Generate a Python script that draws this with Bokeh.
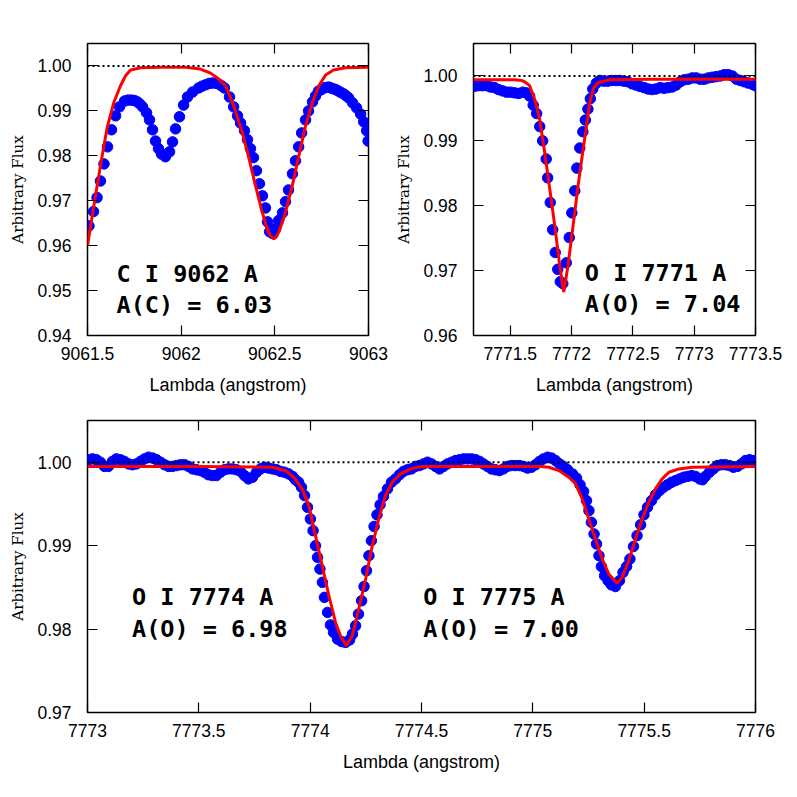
from bokeh.plotting import figure
from bokeh.layouts import column, row
from bokeh.models import Range1d, FixedTicker, LinearAxis, Span, Label, PrintfTickFormatter
from bokeh.embed import file_html
from bokeh.resources import INLINE

# ---------------- Panel 1 : C I 9062 ----------------
c_wave = [9061.508, 9061.532, 9061.551, 9061.569, 9061.588, 9061.607, 9061.628, 9061.650, 9061.671, 9061.698,
          9061.716, 9061.735, 9061.751, 9061.767, 9061.781, 9061.794, 9061.815, 9061.831, 9061.847, 9061.863,
          9061.879, 9061.895, 9061.916, 9061.938, 9061.954, 9061.970, 9061.991, 9062.013, 9062.034, 9062.061,
          9062.093, 9062.111, 9062.130, 9062.149, 9062.167, 9062.183, 9062.199, 9062.215, 9062.231, 9062.258,
          9062.280, 9062.301, 9062.317, 9062.338, 9062.354, 9062.370, 9062.386, 9062.402, 9062.418, 9062.434,
          9062.450, 9062.461, 9062.472, 9062.488, 9062.504, 9062.520, 9062.541, 9062.557, 9062.573, 9062.594,
          9062.610, 9062.627, 9062.643, 9062.664, 9062.680, 9062.701, 9062.717, 9062.733, 9062.747, 9062.760,
          9062.773, 9062.787, 9062.800, 9062.813, 9062.827, 9062.840, 9062.853, 9062.867, 9062.880, 9062.894,
          9062.915, 9062.936, 9062.958, 9062.974, 9062.990, 9062.998]
c_flux = [0.9644, 0.9676, 0.9707, 0.9744, 0.9782, 0.9820, 0.9858, 0.9889, 0.9909, 0.9922,
          0.9924, 0.9924, 0.9923, 0.9920, 0.9915, 0.9909, 0.9896, 0.9880, 0.9858, 0.9833,
          0.9816, 0.9804, 0.9798, 0.9809, 0.9831, 0.9860, 0.9887, 0.9913, 0.9931, 0.9942,
          0.9951, 0.9955, 0.9958, 0.9961, 0.9962, 0.9962, 0.9960, 0.9956, 0.9951, 0.9931,
          0.9909, 0.9889, 0.9873, 0.9856, 0.9836, 0.9816, 0.9796, 0.9767, 0.9738, 0.9711,
          0.9684, 0.9653, 0.9631, 0.9627, 0.9638, 0.9656, 0.9673, 0.9698, 0.9724, 0.9760,
          0.9789, 0.9820, 0.9851, 0.9880, 0.9900, 0.9920, 0.9933, 0.9944, 0.9947, 0.9951,
          0.9952, 0.9953, 0.9951, 0.9949, 0.9947, 0.9944, 0.9941, 0.9938, 0.9934, 0.9929,
          0.9918, 0.9907, 0.9893, 0.9876, 0.9856, 0.9833]
c_model_wave = [9061.500, 9061.534, 9061.569, 9061.605, 9061.640, 9061.676, 9061.703, 9061.730, 9061.783, 9061.890,
                9062.023, 9062.103, 9062.157, 9062.194, 9062.237, 9062.281, 9062.326, 9062.361, 9062.397, 9062.433,
                9062.459, 9062.477, 9062.495, 9062.509, 9062.521, 9062.557, 9062.593, 9062.628, 9062.664, 9062.700,
                9062.735, 9062.771, 9062.813, 9062.877, 9063.000]
c_model_flux = [0.9600, 0.9689, 0.9778, 0.9863, 0.9918, 0.9956, 0.9978, 0.9991, 0.9996, 0.9997,
                0.9997, 0.9993, 0.9984, 0.9973, 0.9956, 0.9911, 0.9852, 0.9796, 0.9733, 0.9674,
                0.9637, 0.9622, 0.9615, 0.9620, 0.9630, 0.9674, 0.9733, 0.9800, 0.9867, 0.9918,
                0.9956, 0.9980, 0.9991, 0.9996, 0.9997]

# ---------------- Panel 2 : O I 7771 ----------------
o1_wave = [7771.208, 7771.241, 7771.273, 7771.306, 7771.339, 7771.372, 7771.404, 7771.437, 7771.470, 7771.502,
           7771.535, 7771.568, 7771.601, 7771.629, 7771.658, 7771.687, 7771.715, 7771.740, 7771.764, 7771.793,
           7771.805, 7771.826, 7771.846, 7771.867, 7771.887, 7771.908, 7771.928, 7771.957, 7771.981, 7772.002,
           7772.026, 7772.043, 7772.067, 7772.092, 7772.112, 7772.133, 7772.153, 7772.173, 7772.202, 7772.231,
           7772.263, 7772.296, 7772.329, 7772.362, 7772.394, 7772.427, 7772.460, 7772.493, 7772.525, 7772.558,
           7772.591, 7772.624, 7772.656, 7772.689, 7772.722, 7772.754, 7772.787, 7772.820, 7772.853, 7772.885,
           7772.918, 7772.951, 7772.984, 7773.016, 7773.049, 7773.082, 7773.115, 7773.147, 7773.180, 7773.213,
           7773.245, 7773.278, 7773.311, 7773.344, 7773.376, 7773.409, 7773.442, 7773.475, 7773.499]
o1_flux = [0.9984, 0.9985, 0.9985, 0.9985, 0.9983, 0.9982, 0.9979, 0.9977, 0.9975, 0.9975,
           0.9974, 0.9973, 0.9975, 0.9974, 0.9969, 0.9955, 0.9942, 0.9922, 0.9900, 0.9872,
           0.9843, 0.9805, 0.9763, 0.9728, 0.9702, 0.9683, 0.9680, 0.9712, 0.9751, 0.9789,
           0.9823, 0.9858, 0.9889, 0.9914, 0.9932, 0.9949, 0.9965, 0.9980, 0.9989, 0.9993,
           0.9992, 0.9992, 0.9993, 0.9993, 0.9993, 0.9992, 0.9991, 0.9988, 0.9986, 0.9984,
           0.9982, 0.9980, 0.9979, 0.9980, 0.9982, 0.9981, 0.9982, 0.9983, 0.9986, 0.9991,
           0.9994, 0.9995, 0.9997, 0.9997, 0.9995, 0.9995, 0.9997, 0.9998, 0.9999, 1.0000,
           1.0002, 1.0002, 1.0000, 0.9995, 0.9993, 0.9991, 0.9989, 0.9987, 0.9985]
o1_model_wave = [7771.200, 7771.535, 7771.592, 7771.617, 7771.658, 7771.699, 7771.740, 7771.781, 7771.822, 7771.863,
                 7771.903, 7771.936, 7771.971, 7772.012, 7772.053, 7772.094, 7772.122, 7772.149, 7772.176, 7772.217,
                 7772.313, 7772.640, 7773.500]
o1_model_flux = [0.9994, 0.9994, 0.9993, 0.9991, 0.9985, 0.9964, 0.9933, 0.9882, 0.9826, 0.9769,
                 0.9708, 0.9667, 0.9708, 0.9769, 0.9831, 0.9887, 0.9923, 0.9959, 0.9980, 0.9990,
                 0.9994, 0.9995, 0.9995]

# ---------------- Panel 3 : O I 7774 / 7775 ----------------
o2_wave = [7773.004, 7773.022, 7773.040, 7773.058, 7773.076, 7773.094, 7773.112, 7773.130, 7773.148, 7773.166,
           7773.184, 7773.202, 7773.220, 7773.238, 7773.256, 7773.274, 7773.292, 7773.310, 7773.328, 7773.346,
           7773.364, 7773.382, 7773.400, 7773.418, 7773.436, 7773.454, 7773.472, 7773.490, 7773.508, 7773.525,
           7773.543, 7773.561, 7773.579, 7773.597, 7773.615, 7773.633, 7773.651, 7773.669, 7773.687, 7773.705,
           7773.723, 7773.741, 7773.759, 7773.777, 7773.795, 7773.813, 7773.831, 7773.849, 7773.867, 7773.885,
           7773.903, 7773.921, 7773.934, 7773.948, 7773.961, 7773.975, 7773.988, 7774.001, 7774.013, 7774.024,
           7774.033, 7774.044, 7774.055, 7774.064, 7774.078, 7774.091, 7774.105, 7774.123, 7774.141, 7774.159,
           7774.177, 7774.190, 7774.204, 7774.217, 7774.231, 7774.242, 7774.253, 7774.264, 7774.275, 7774.287,
           7774.300, 7774.314, 7774.329, 7774.347, 7774.365, 7774.383, 7774.401, 7774.419, 7774.437, 7774.455,
           7774.473, 7774.491, 7774.509, 7774.527, 7774.545, 7774.563, 7774.581, 7774.599, 7774.617, 7774.635,
           7774.653, 7774.671, 7774.689, 7774.707, 7774.725, 7774.743, 7774.761, 7774.778, 7774.796, 7774.814,
           7774.832, 7774.850, 7774.868, 7774.886, 7774.904, 7774.922, 7774.940, 7774.958, 7774.976, 7774.994,
           7775.012, 7775.030, 7775.048, 7775.066, 7775.084, 7775.102, 7775.120, 7775.138, 7775.156, 7775.178,
           7775.196, 7775.212, 7775.228, 7775.241, 7775.252, 7775.263, 7775.275, 7775.286, 7775.297, 7775.308,
           7775.322, 7775.338, 7775.353, 7775.371, 7775.389, 7775.405, 7775.421, 7775.436, 7775.452, 7775.468,
           7775.484, 7775.499, 7775.515, 7775.533, 7775.551, 7775.569, 7775.587, 7775.605, 7775.623, 7775.641,
           7775.659, 7775.677, 7775.695, 7775.713, 7775.731, 7775.749, 7775.762, 7775.775, 7775.793, 7775.811,
           7775.829, 7775.847, 7775.865, 7775.883, 7775.901, 7775.919, 7775.937, 7775.955, 7775.973, 7775.991,
           7776.000]
o2_flux = [1.0003, 1.0004, 1.0003, 1.0000, 0.9995, 0.9995, 1.0001, 1.0004, 1.0003, 1.0001,
           0.9998, 0.9997, 0.9998, 1.0001, 1.0004, 1.0006, 1.0005, 1.0003, 1.0000, 0.9997,
           0.9995, 0.9995, 0.9996, 0.9997, 0.9997, 0.9995, 0.9992, 0.9991, 0.9990, 0.9988,
           0.9985, 0.9984, 0.9984, 0.9988, 0.9991, 0.9992, 0.9992, 0.9991, 0.9989, 0.9984,
           0.9980, 0.9982, 0.9988, 0.9992, 0.9994, 0.9993, 0.9992, 0.9991, 0.9989, 0.9988,
           0.9986, 0.9983, 0.9979, 0.9976, 0.9970, 0.9960, 0.9946, 0.9932, 0.9918, 0.9900,
           0.9886, 0.9872, 0.9856, 0.9838, 0.9820, 0.9805, 0.9796, 0.9788, 0.9785, 0.9784,
           0.9787, 0.9794, 0.9804, 0.9818, 0.9834, 0.9851, 0.9870, 0.9888, 0.9906, 0.9923,
           0.9937, 0.9949, 0.9959, 0.9968, 0.9976, 0.9980, 0.9985, 0.9989, 0.9991, 0.9992,
           0.9995, 0.9996, 0.9998, 1.0000, 0.9998, 0.9995, 0.9992, 0.9995, 0.9998, 1.0000,
           1.0002, 1.0003, 1.0004, 1.0004, 1.0004, 1.0003, 1.0001, 0.9998, 0.9995, 0.9992,
           0.9991, 0.9990, 0.9992, 0.9995, 0.9996, 0.9996, 0.9996, 0.9995, 0.9993, 0.9994,
           0.9997, 1.0001, 1.0004, 1.0006, 1.0005, 1.0002, 0.9998, 0.9995, 0.9991, 0.9986,
           0.9981, 0.9973, 0.9965, 0.9954, 0.9942, 0.9928, 0.9914, 0.9902, 0.9888, 0.9875,
           0.9864, 0.9858, 0.9853, 0.9851, 0.9858, 0.9868, 0.9875, 0.9884, 0.9899, 0.9912,
           0.9925, 0.9937, 0.9946, 0.9954, 0.9961, 0.9966, 0.9970, 0.9973, 0.9976, 0.9978,
           0.9980, 0.9982, 0.9983, 0.9984, 0.9983, 0.9980, 0.9979, 0.9983, 0.9988, 0.9992,
           0.9996, 0.9997, 0.9997, 0.9996, 0.9994, 0.9995, 0.9998, 1.0002, 1.0003, 1.0002,
           1.0001]
o2_model_wave = [7773.000, 7773.508, 7773.829, 7773.889, 7773.926, 7773.964, 7773.994, 7774.024, 7774.054, 7774.084,
                 7774.114, 7774.136, 7774.162, 7774.189, 7774.218, 7774.249, 7774.279, 7774.308, 7774.338, 7774.368,
                 7774.406, 7774.451, 7774.503, 7775.034, 7775.072, 7775.117, 7775.162, 7775.192, 7775.222, 7775.251,
                 7775.281, 7775.312, 7775.341, 7775.379, 7775.401, 7775.431, 7775.461, 7775.491, 7775.521, 7775.551,
                 7775.581, 7775.611, 7775.656, 7775.716, 7776.000]
o2_model_flux = [0.9995, 0.9995, 0.9994, 0.9990, 0.9982, 0.9968, 0.9948, 0.9912, 0.9876, 0.9840,
                 0.9808, 0.9792, 0.9780, 0.9792, 0.9824, 0.9860, 0.9900, 0.9932, 0.9960, 0.9976,
                 0.9986, 0.9992, 0.9995, 0.9995, 0.9994, 0.9990, 0.9982, 0.9974, 0.9956, 0.9932,
                 0.9908, 0.9884, 0.9866, 0.9855, 0.9862, 0.9882, 0.9908, 0.9932, 0.9952, 0.9968,
                 0.9980, 0.9988, 0.9992, 0.9994, 0.9995]

# ---------------- ticks and labels ----------------
c_xticks = [9061.5, 9062.0, 9062.5, 9063.0]
c_xlabels = ["9061.5", "9062", "9062.5", "9063"]
c_yticks = [0.94, 0.95, 0.96, 0.97, 0.98, 0.99, 1.00]
o1_xticks = [7771.5, 7772.0, 7772.5, 7773.0, 7773.5]
o1_xlabels = ["7771.5", "7772", "7772.5", "7773", "7773.5"]
o1_yticks = [0.96, 0.97, 0.98, 0.99, 1.00]
o2_xticks = [7773.0, 7773.5, 7774.0, 7774.5, 7775.0, 7775.5, 7776.0]
o2_xlabels = ["7773", "7773.5", "7774", "7774.5", "7775", "7775.5", "7776"]
o2_yticks = [0.97, 0.98, 0.99, 1.00]

c_notes = ["C I 9062 A", "A(C) = 6.03"]
c_note_x = [9061.655, 9061.655]
c_note_y = [0.9537, 0.9467]
o1_notes = ["O I 7771 A", "A(O) = 7.04"]
o1_note_x = [7772.108, 7772.108]
o1_note_y = [0.9697, 0.9649]
o2_notes = ["O I 7774 A", "A(O) = 6.98", "O I 7775 A", "A(O) = 7.00"]
o2_note_x = [7773.200, 7773.200, 7774.508, 7774.508]
o2_note_y = [0.9838, 0.9800, 0.9838, 0.9800]

TICK_FONT = "Liberation Sans"
TICK_SIZE = "17.5px"


def style_axis(ax, ticks, overrides=None, fmt=None):
    ax.ticker = FixedTicker(ticks=ticks)
    if overrides is not None:
        ax.major_label_overrides = overrides
    if fmt is not None:
        ax.formatter = fmt
    ax.major_tick_in = 10
    ax.major_tick_out = 0
    ax.minor_tick_in = 0
    ax.minor_tick_out = 0
    ax.major_tick_line_color = "black"
    ax.major_tick_line_width = 1.2
    ax.axis_line_color = None
    ax.major_label_text_font = TICK_FONT
    ax.major_label_text_font_size = TICK_SIZE
    ax.major_label_text_color = "black"


def panel(width, height, xr, yr, xticks, xlabels, yticks, mb_left, mb_right, mb_top, mb_bottom):
    p = figure(width=width, height=height,
               x_range=Range1d(*xr), y_range=Range1d(*yr),
               output_backend="svg", toolbar_location=None,
               min_border_left=mb_left, min_border_right=mb_right,
               min_border_top=mb_top, min_border_bottom=mb_bottom)
    p.grid.visible = False
    p.outline_line_color = "black"
    p.outline_line_width = 1.5
    p.background_fill_color = "white"
    p.border_fill_color = "white"

    xo = {float(v): s for v, s in zip(xticks, xlabels)}
    style_axis(p.xaxis[0], xticks, overrides=xo)
    style_axis(p.yaxis[0], yticks, fmt=PrintfTickFormatter(format="%.2f"))
    p.xaxis[0].major_label_standoff = 11
    p.yaxis[0].major_label_standoff = 16

    p.xaxis[0].axis_label = "Lambda (angstrom)"
    p.xaxis[0].axis_label_text_font = "Liberation Sans"
    p.xaxis[0].axis_label_text_font_size = "18px"
    p.xaxis[0].axis_label_text_font_style = "normal"
    p.xaxis[0].axis_label_text_color = "black"
    p.xaxis[0].axis_label_standoff = 12

    p.yaxis[0].axis_label = "Arbitrary Flux"
    p.yaxis[0].axis_label_text_font = "DejaVu Serif"
    p.yaxis[0].axis_label_text_font_size = "15px"
    p.yaxis[0].axis_label_text_font_style = "normal"
    p.yaxis[0].axis_label_text_color = "black"
    p.yaxis[0].axis_label_standoff = 7

    # mirrored inward ticks on the right and top edges, without labels
    for loc, ticks in (("right", yticks), ("above", xticks)):
        ax = LinearAxis()
        style_axis(ax, ticks, overrides={float(v): "" for v in ticks})
        ax.major_label_text_font_size = "8px"
        ax.major_label_standoff = 0
        p.add_layout(ax, loc)

    p.add_layout(Span(location=1.0, dimension="width", line_color="black",
                      line_dash="2 3", line_width=2))
    return p


def add_notes(p, xs, ys, texts):
    for x, y, t in zip(xs, ys, texts):
        p.add_layout(Label(x=x, y=y, text=t, text_font="DejaVu Sans Mono",
                           text_font_style="bold", text_font_size="23.5px",
                           text_color="black", text_baseline="alphabetic"))


DOT = 10.5

pA = panel(388, 410, (9061.5, 9063.0), (0.94, 1.005), c_xticks, c_xlabels, c_yticks, 87, 20, 43, 75)
pA.scatter(c_wave, c_flux, size=DOT, color="#0000FF")
pA.line(c_model_wave, c_model_flux, color="#FF0000", line_width=3)
add_notes(pA, c_note_x, c_note_y, c_notes)

pB = panel(397, 410, (7771.2, 7773.5), (0.96, 1.005), o1_xticks, o1_xlabels, o1_yticks, 85, 30, 43, 75)
pB.scatter(o1_wave, o1_flux, size=DOT, color="#0000FF")
pB.line(o1_model_wave, o1_model_flux, color="#FF0000", line_width=3)
add_notes(pB, o1_note_x, o1_note_y, o1_notes)

pC = panel(785, 372, (7773.0, 7776.0), (0.97, 1.005), o2_xticks, o2_xlabels, o2_yticks, 87, 30, 10, 70)
pC.scatter(o2_wave, o2_flux, size=DOT, color="#0000FF")
pC.line(o2_model_wave, o2_model_flux, color="#FF0000", line_width=3)
add_notes(pC, o2_note_x, o2_note_y, o2_notes)

layout = column(row(pA, pB), pC)
open("out.html", "w").write(file_html(layout, INLINE))
